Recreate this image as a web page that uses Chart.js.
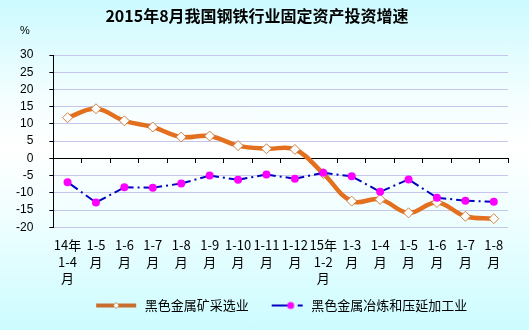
<!DOCTYPE html>
<html>
<head>
<meta charset="utf-8">
<script src="https://cdn.jsdelivr.net/npm/chart.js@4"></script>
<style>
html, body { margin: 0; padding: 0; }
body {
  width: 529px;
  height: 330px;
  overflow: hidden;
  background: linear-gradient(to bottom, #ccfaff 0%, #f4feff 30%, #ffffff 45%, #f0feff 65%, #ccfcff 100%);
}
</style>
</head>
<body>
<canvas id="steel_chart" width="529" height="330"></canvas>
<script>
const titleText = '2015年8月我国钢铁行业固定资产投资增速';

const categories = [
  ['14年', '1-4', '月'], ['1-5', '月'], ['1-6', '月'], ['1-7', '月'],
  ['1-8', '月'], ['1-9', '月'], ['1-10', '月'], ['1-11', '月'], ['1-12', '月'],
  ['15年', '1-2', '月'], ['1-3', '月'], ['1-4', '月'], ['1-5', '月'],
  ['1-6', '月'], ['1-7', '月'], ['1-8', '月']
];

const seriesNames = ['黑色金属矿采选业', '黑色金属冶炼和压延加工业'];

// 增速 %
const miningValues = [11.8, 14.4, 10.9, 9.1, 6.2, 6.5, 3.7, 2.8, 2.6, -4.4, -12.4, -11.9, -15.8, -12.8, -16.8, -17.5];
const smeltingValues = [-6.9, -12.8, -8.4, -8.5, -7.3, -5.0, -6.2, -4.7, -5.9, -4.2, -5.2, -9.7, -6.1, -11.4, -12.3, -12.6];

const yMin = -20;
const yMax = 30;
const yStep = 5;

const orange = 'rgb(226,112,30)';
const blue = '#0000c0';
const magenta = '#ff00ff';

// little pictures for the legend: line + marker
function legendMining()
{
    const c = document.createElement('canvas');
    c.width = 44; c.height = 12;
    const g = c.getContext('2d');
    g.strokeStyle = 'rgb(200,110,45)';
    g.lineWidth = 4;
    g.beginPath(); g.moveTo(2, 6); g.lineTo(42, 6); g.stroke();
    g.fillStyle = '#fff';
    g.strokeStyle = 'rgb(210,140,80)';
    g.lineWidth = 1;
    g.beginPath();
    g.moveTo(22, 3); g.lineTo(25, 6); g.lineTo(22, 9); g.lineTo(19, 6); g.closePath();
    g.fill(); g.stroke();
    return c;
}

function legendSmelting()
{
    const c = document.createElement('canvas');
    c.width = 44; c.height = 12;
    const g = c.getContext('2d');
    g.strokeStyle = blue;
    g.lineWidth = 2;
    g.beginPath(); g.moveTo(11, 6); g.lineTo(28, 6); g.stroke();
    g.beginPath(); g.moveTo(37, 6); g.lineTo(42, 6); g.stroke();
    g.fillStyle = magenta;
    g.beginPath(); g.arc(30, 6, 3.5, 0, Math.PI * 2); g.fill();
    return c;
}

const legendIcons = [legendMining(), legendSmelting()];

// dash-dot restarted on every segment: dash, dot, dash
function segmentDash(c)
{
    const len = Math.hypot(c.p1.x - c.p0.x, c.p1.y - c.p0.y);
    const a = Math.max((len - 10) / 2, 2);
    return [a, 4, 2, 4, a + 20, 0];
}

const decorPlugin = {
    id: 'decor',
    afterDraw(chart) {
        const ctx = chart.ctx;
        ctx.save();
        ctx.fillStyle = '#000';
        ctx.textAlign = 'center';
        ctx.textBaseline = 'middle';
        ctx.font = 'bold 16px "Noto Sans CJK SC"';
        ctx.fillText(titleText, 257, 16);
        ctx.font = '11px "Liberation Sans"';
        ctx.fillText('%', 25, 31);
        ctx.restore();
    }
};

const ctx = document.getElementById('steel_chart').getContext('2d');
const data = {
    labels: categories,
    datasets: [{
        label: seriesNames[0],
        data: miningValues,
        order: 2,
        borderColor: orange,
        borderWidth: 4.5,
        tension: 0.4,
        pointStyle: 'rectRot',
        pointRadius: 5,
        pointBackgroundColor: '#ffffff',
        pointBorderColor: 'rgb(205,130,70)',
        pointBorderWidth: 1
    }, {
        label: seriesNames[1],
        data: smeltingValues,
        order: 1,
        borderColor: blue,
        borderWidth: 2,
        segment: { borderDash: segmentDash },
        tension: 0,
        pointRadius: 4,
        pointBackgroundColor: magenta,
        pointBorderColor: magenta,
        pointBorderWidth: 0
    }]
};

const config = {
    type: 'line',
    data: data,
    plugins: [decorPlugin],
    options: {
        responsive: false,
        animation: false,
        layout: { padding: { top: 55, left: 0, right: 21, bottom: 8 } },
        scales: {
            x: {
                type: 'category',
                position: 'bottom',
                offset: true,
                grid: { display: false, drawTicks: false },
                border: { display: false },
                ticks: {
                    autoSkip: false,
                    maxRotation: 0,
                    padding: 9,
                    color: '#000',
                    font: { family: 'Noto Sans CJK SC', size: 13, lineHeight: 1.3 }
                },
                afterFit: s => { s.height -= 9; }
            },
            x0: {
                type: 'category',
                position: { y: 0 },
                offset: true,
                grid: {
                    offset: true,
                    drawOnChartArea: false,
                    drawTicks: true,
                    tickLength: 4,
                    color: '#000',
                    tickColor: '#000'
                },
                border: { display: true, color: '#000', width: 1 },
                ticks: { display: false }
            },
            y: {
                min: yMin,
                max: yMax,
                ticks: {
                    stepSize: yStep,
                    autoSkip: false,
                    padding: 16,
                    color: '#000',
                    font: { family: 'Liberation Sans', size: 12 }
                },
                grid: {
                    color: '#c6c6ec',
                    tickColor: '#000',
                    tickLength: 4
                },
                border: { display: true, color: '#000', width: 1 }
            }
        },
        plugins: {
            tooltip: { enabled: false },
            legend: {
                position: 'bottom',
                fullSize: false,
                labels: {
                    usePointStyle: true,
                    pointStyleWidth: 44,
                    padding: 12,
                    color: '#000',
                    font: { family: 'Noto Sans CJK SC', size: 13 },
                    generateLabels: () => seriesNames.map((name, i) => ({
                        text: name,
                        pointStyle: legendIcons[i],
                        fillStyle: 'transparent',
                        strokeStyle: 'transparent',
                        lineWidth: 0,
                        datasetIndex: i
                    }))
                }
            }
        }
    }
};

const chart = new Chart(ctx, config);
</script>
</body>
</html>
